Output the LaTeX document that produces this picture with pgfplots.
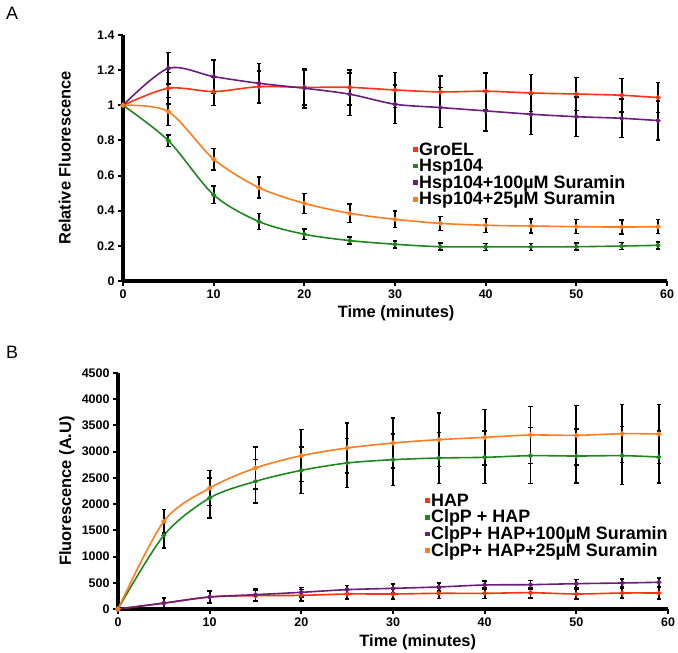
\documentclass[border=0pt]{standalone}
\usepackage{pgfplots}
\pgfplotsset{compat=1.18}
\usepackage{fontspec}
\setmainfont{Liberation Sans}
\definecolor{cred}{RGB}{255,50,20}
\definecolor{cgreen}{RGB}{30,135,30}
\definecolor{cpurple}{RGB}{105,30,120}
\definecolor{corange}{RGB}{255,125,30}
\pgfplotsset{
  myax/.style={
    scale only axis,
    axis x line*=bottom, axis y line*=left,
    axis line style={line width=3.2bp, black},
    every tick/.style={line width=2bp, black},
    tick align=outside, major tick length=5bp,
    xmin=0, xmax=60, xtick={0,10,...,60},
    tick label style={font=\fontsize{12.5}{12.5}\selectfont\bfseries},
    /pgf/number format/assume math mode=true,
    /pgf/number format/1000 sep={},
    label style={font=\fontsize{16.5}{18}\selectfont\bfseries},
    legend cell align=left,
    legend style={draw=none, fill=none, inner sep=0pt, font=\fontsize{18}{18}\selectfont\bfseries, row sep=0bp,
      nodes={inner xsep=1bp, inner ysep=1.1bp}},
    legend image code/.code={\fill[##1] (0bp,-1.6bp) rectangle (3.4bp,1.6bp);},
    every axis plot/.append style={line width=1.6bp, smooth, tension=0.5, mark=*, mark size=1.7bp},
    error bars/y dir=both, error bars/y explicit,
    error bars/error bar style={line width=1.7bp, black},
    error bars/error mark options={rotate=90, mark size=2.2bp, line width=1.5bp, black},
  }
}
\begin{document}
\begin{tikzpicture}[x=1bp,y=1bp]
\useasboundingbox (0,0) rectangle (678,653);
\node[font=\fontsize{18}{18}\selectfont] at (12,640) {A};
\node[font=\fontsize{18}{18}\selectfont] at (12,301) {B};
\begin{axis}[myax, at={(123bp,372bp)}, anchor=south west,
  width=544bp, height=246bp,
  ymin=0, ymax=1.4, ytick={0,0.2,...,1.4},
  xlabel={Time (minutes)}, ylabel={Relative Fluorescence},
  xlabel style={at={(axis description cs:0.502,-0.13)}, anchor=center},
  ylabel style={at={(axis description cs:-0.107,0.5)}, anchor=center},
  legend style={at={(0.533,0.567)}, anchor=north west},
]
\addplot[color=cred, mark options={fill=cred}] coordinates {
(0,1) +- (0,0) (5,1.097) +- (0,0.09) (10,1.078) +- (0,0.08) (15,1.106) +- (0,0.09)
(20,1.102) +- (0,0.1) (25,1.102) +- (0,0.1) (30,1.087) +- (0,0.1) (35,1.076) +- (0,0.09)
(40,1.08) +- (0,0.105) (45,1.07) +- (0,0.105) (50,1.064) +- (0,0.095) (55,1.057) +- (0,0.095)
(59,1.044) +- (0,0.085)};
\addlegendentry{GroEL}
\addplot[color=cgreen, mark options={fill=cgreen}] coordinates {
(0,1) +- (0,0) (5,0.799) +- (0,0.033) (10,0.49) +- (0,0.05) (15,0.338) +- (0,0.045)
(20,0.266) +- (0,0.03) (25,0.23) +- (0,0.02) (30,0.209) +- (0,0.02) (35,0.195) +- (0,0.02)
(40,0.194) +- (0,0.02) (45,0.194) +- (0,0.02) (50,0.195) +- (0,0.02) (55,0.199) +- (0,0.02)
(59,0.203) +- (0,0.02)};
\addlegendentry{Hsp104}
\addplot[color=cpurple, mark options={fill=cpurple}] coordinates {
(0,1) +- (0,0) (5,1.21) +- (0,0.09) (10,1.163) +- (0,0.095) (15,1.125) +- (0,0.114)
(20,1.097) +- (0,0.113) (25,1.063) +- (0,0.12) (30,1.006) +- (0,0.11) (35,0.987) +- (0,0.114)
(40,0.968) +- (0,0.114) (45,0.949) +- (0,0.114) (50,0.935) +- (0,0.113) (55,0.926) +- (0,0.11)
(59,0.913) +- (0,0.11)};
\addlegendentry{Hsp104+100µM Suramin}
\addplot[color=corange, mark options={fill=corange}] coordinates {
(0,1) +- (0,0) (5,0.964) +- (0,0.08) (10,0.693) +- (0,0.06) (15,0.531) +- (0,0.06)
(20,0.442) +- (0,0.057) (25,0.385) +- (0,0.052) (30,0.351) +- (0,0.047) (35,0.328) +- (0,0.04)
(40,0.317) +- (0,0.04) (45,0.313) +- (0,0.04) (50,0.309) +- (0,0.04) (55,0.307) +- (0,0.04)
(59,0.309) +- (0,0.04)};
\addlegendentry{Hsp104+25µM Suramin}
\end{axis}
\begin{axis}[myax, at={(118bp,44bp)}, anchor=south west,
  width=550bp, height=236bp,
  ymin=0, ymax=4500, ytick={0,500,...,4500},
  xlabel={Time (minutes)}, ylabel={Fluorescence (A.U)},
  xlabel style={at={(axis description cs:0.545,-0.14)}, anchor=center},
  ylabel style={at={(axis description cs:-0.093,0.5)}, anchor=center},
  legend style={at={(0.558,0.493)}, anchor=north west},
]
\addplot[color=cred, mark options={fill=cred}] coordinates {
(0,0) +- (0,0) (5,110) +- (0,100) (10,229) +- (0,110) (15,254) +- (0,110)
(20,260) +- (0,110) (25,286) +- (0,100) (30,286) +- (0,100) (35,299) +- (0,100)
(40,299) +- (0,100) (45,311) +- (0,100) (50,286) +- (0,100) (55,305) +- (0,100)
(59,305) +- (0,110)};
\addlegendentry{HAP}
\addplot[color=cgreen, mark options={fill=cgreen}] coordinates {
(0,0) +- (0,0) (5,1405) +- (0,242) (10,2117) +- (0,382) (15,2434) +- (0,413)
(20,2644) +- (0,444) (25,2784) +- (0,464) (30,2847) +- (0,489) (35,2879) +- (0,489)
(40,2892) +- (0,502) (45,2924) +- (0,534) (50,2917) +- (0,514) (55,2924) +- (0,553)
(59,2898) +- (0,495)};
\addlegendentry{ClpP + HAP}
\addplot[color=cpurple, mark options={fill=cpurple}] coordinates {
(0,0) +- (0,0) (5,114) +- (0,100) (10,229) +- (0,110) (15,273) +- (0,110)
(20,318) +- (0,90) (25,369) +- (0,80) (30,394) +- (0,80) (35,420) +- (0,80)
(40,458) +- (0,80) (45,464) +- (0,80) (50,483) +- (0,80) (55,496) +- (0,80)
(59,509) +- (0,80)};
\addlegendentry{ClpP+ HAP+100µM Suramin}
\addplot[color=corange, mark options={fill=corange}] coordinates {
(0,0) +- (0,0) (5,1672) +- (0,222) (10,2307) +- (0,337) (15,2689) +- (0,400)
(20,2924) +- (0,496) (25,3070) +- (0,477) (30,3165) +- (0,477) (35,3229) +- (0,508)
(40,3273) +- (0,528) (45,3318) +- (0,546) (50,3311) +- (0,566) (55,3343) +- (0,553)
(59,3337) +- (0,559)};
\addlegendentry{ClpP+ HAP+25µM Suramin}
\end{axis}
\end{tikzpicture}
\end{document}
